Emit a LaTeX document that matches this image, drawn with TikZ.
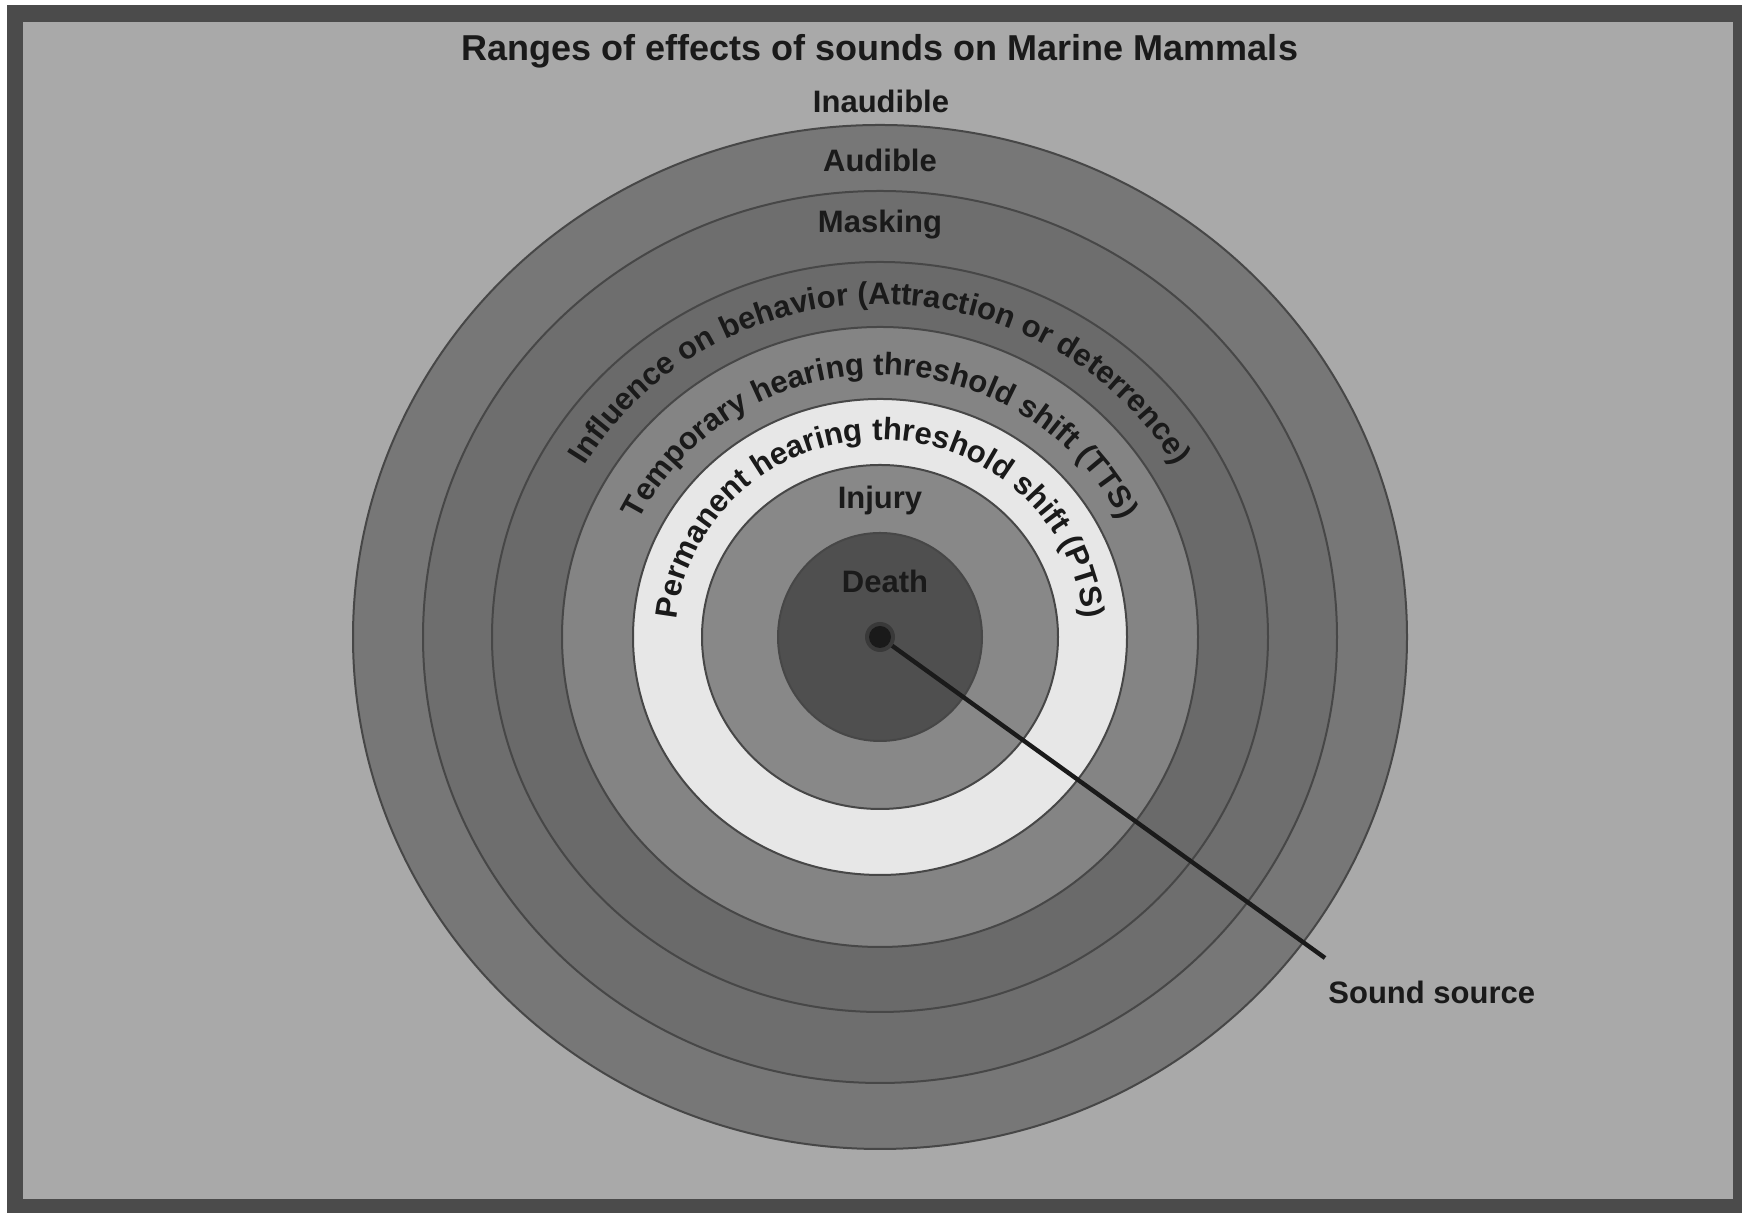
\documentclass[tikz,border=0pt]{standalone}
\usepackage{fontspec}
\setmainfont{Liberation Sans}
\usetikzlibrary{decorations.text}
\definecolor{bgc}{HTML}{A9A9A9}
\definecolor{framec}{HTML}{4B4B4B}
\definecolor{audc}{HTML}{777777}
\definecolor{maskc}{HTML}{6E6E6E}
\definecolor{inflc}{HTML}{6A6A6A}
\definecolor{ttsc}{HTML}{848484}
\definecolor{ptsc}{HTML}{E7E7E7}
\definecolor{injc}{HTML}{888888}
\definecolor{deathc}{HTML}{4F4F4F}
\definecolor{edgec}{HTML}{474747}
\definecolor{txtc}{HTML}{1A1A1A}
\newcommand{\labfont}{\fontsize{15.5pt}{18pt}\selectfont\bfseries\color{txtc}}
\tikzset{
  ring/.style={draw=edgec, line width=1pt},
  lab/.style={font=\labfont, text=txtc, inner sep=0pt},
  arclab/.style={decorate, decoration={text along path, text align=center, text={#1}}}
}
\begin{document}
\begin{tikzpicture}[x=0.5pt,y=0.5pt]
\useasboundingbox (0,0) rectangle (1742,1213);
\fill[white] (0,0) rectangle (1742,1213);
\fill[framec] (7,0) rectangle (1742,1208);
\fill[bgc] (23,14) rectangle (1733,1191);
\coordinate (c) at (880,576);
\draw[ring, fill=audc]   (c) ellipse [x radius=527, y radius=512];
\draw[ring, fill=maskc]  (c) ellipse [x radius=457, y radius=446];
\draw[ring, fill=inflc]  (c) ellipse [x radius=388, y radius=375];
\draw[ring, fill=ttsc]   (c) ellipse [x radius=318, y radius=310];
\draw[ring, fill=ptsc]   (c) ellipse [x radius=247, y radius=238];
\draw[ring, fill=injc]   (c) ellipse [x radius=178, y radius=172];
\draw[ring, fill=deathc] (c) ellipse [x radius=102, y radius=104];
% curved labels
\path[arclab={|\labfont|Influence on behavior (Attraction or deterrence)}]
  (880-344,576) arc [start angle=180, end angle=0, x radius=344, y radius=333];
\path[arclab={|\labfont|Temporary hearing threshold shift (TTS)}]
  (880-269,576) arc [start angle=180, end angle=0, x radius=269, y radius=262];
\path[arclab={|\labfont|Permanent hearing threshold shift (PTS)}]
  (880-204,576) arc [start angle=180, end angle=0, x radius=204, y radius=197];
% straight labels
\node[font=\fontsize{18pt}{21pt}\selectfont\bfseries, text=txtc] (title) at (880,1162) {Ranges of effects of sounds on Marine Mammals};
\node[lab] (inaud) at (881,1112) {Inaudible};
\node[lab] (aud) at (880,1053) {Audible};
\node[lab] (mask) at (880,988) {Masking};
\node[lab] (inj) at (880,712) {Injury};
\node[lab] (death) at (885,632) {Death};
% sound source
\coordinate (lineend) at (1325,255);
\node[lab, anchor=west] (src) at (1328,221) {Sound source};
\draw[line width=2.2pt, color=txtc] (c) -- (lineend);
\fill[color=edgec!80!black] (c) circle [radius=15];
\fill[color=txtc] (c) circle [radius=11];
\end{tikzpicture}
\end{document}
